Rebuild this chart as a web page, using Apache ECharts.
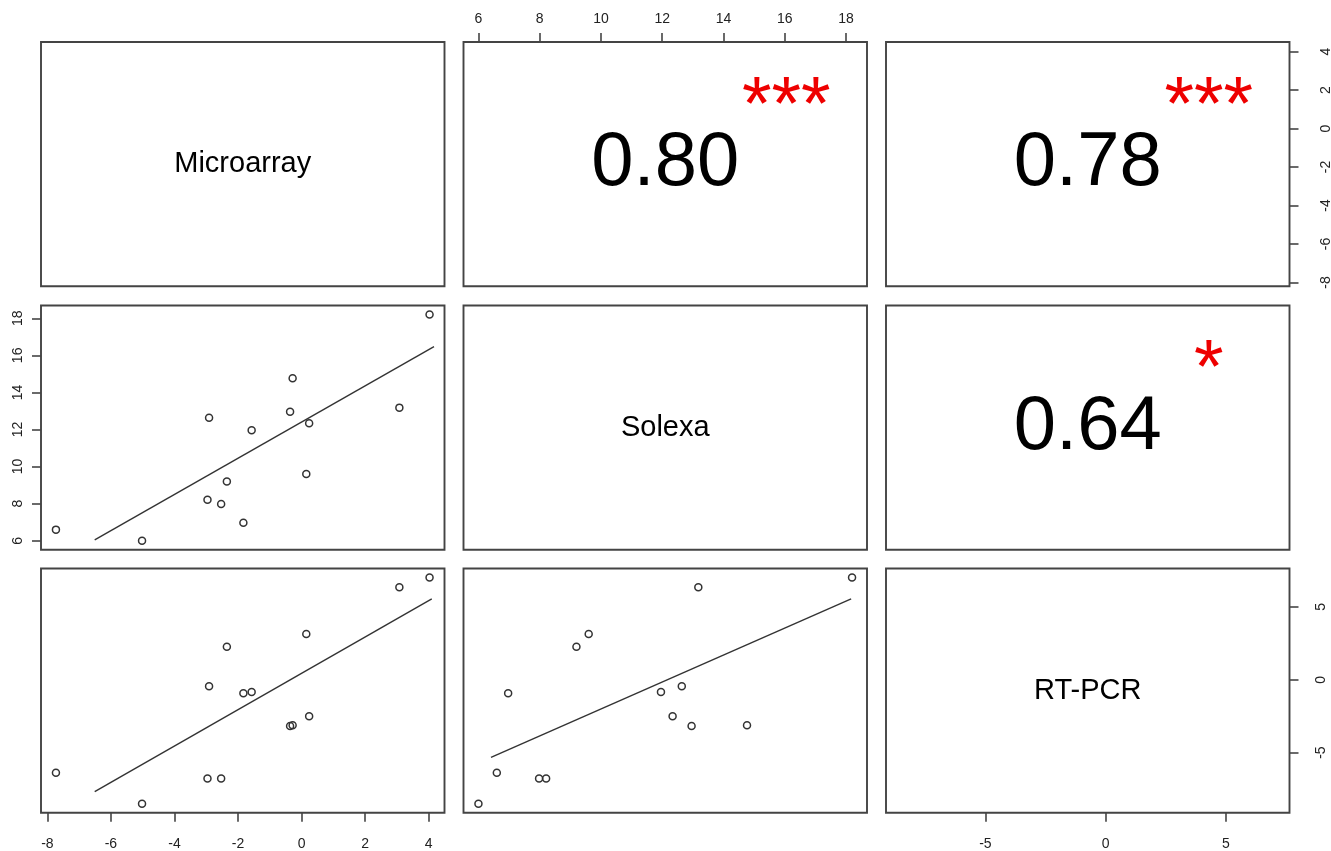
<!DOCTYPE html>
<html>
<head>
<meta charset="utf-8">
<script src="https://cdn.jsdelivr.net/npm/echarts@6/dist/echarts.min.js"></script>
<style>
  html, body { margin: 0; padding: 0; background: #ffffff; }
  #chart { width: 1331px; height: 851px; }
</style>
</head>
<body>
<div id="chart"></div>
<script>
// Variables of the scatterplot matrix
const variables = ['Microarray', 'Solexa', 'RT-PCR'];

// One value per gene for each platform
const microarray = [-7.73, -5.02, -2.91, -2.96, -2.53, -2.35, -1.83, -1.57, -0.36, -0.28, 0.15, 0.24, 3.08, 4.03];
const solexa     = [6.6, 6.0, 12.64, 8.21, 7.98, 9.2, 6.97, 11.96, 12.96, 14.77, 9.6, 12.34, 13.18, 18.2];
const rtpcr      = [-6.38, -8.51, -0.45, -6.77, -6.77, 2.27, -0.92, -0.83, -3.18, -3.12, 3.14, -2.5, 6.36, 7.02];

// Correlation coefficients and significance stars for the upper panels
// order: (Microarray, Solexa), (Microarray, RT-PCR), (Solexa, RT-PCR)
const corrText  = ['0.80', '0.78', '0.64'];
const corrStars = ['***', '***', '*'];

// End points of the fitted lines in the lower panels
const fitMicroSolexa = [[-6.51, 6.05], [4.17, 16.47]];
const fitMicroRt     = [[-6.51, -7.68], [4.10, 5.56]];
const fitSolexaRt    = [[6.41, -5.33], [18.17, 5.56]];

// Tick values of each variable's axis
const microTicks  = [-8, -6, -4, -2, 0, 2, 4];
const solexaTicks = [6, 8, 10, 12, 14, 16, 18];
const rtpcrTicks  = [-5, 0, 5];

// ---------------------------------------------------------------------------
const values = [microarray, solexa, rtpcr];
const ticks = [microTicks, solexaTicks, rtpcrTicks];

// axis range: data range widened by 4% on both sides
function paddedRange(arr) {
  const lo = Math.min(...arr), hi = Math.max(...arr);
  const pad = (hi - lo) * 0.04;
  return [lo - pad, hi + pad];
}
const ranges = values.map(paddedRange);
const at = (v, f) => ranges[v][0] + f * (ranges[v][1] - ranges[v][0]);

// panel layout
const colLeft = [41, 463.5, 886];
const colWidth = 403.5;
const rowTop = [42, 305.5, 568.5];
const rowHeight = 244.3;

const FONT = '"Liberation Sans", Arial, Helvetica, sans-serif';
const boxColor = '#444444';
const inkColor = '#333333';

// which side of which panel carries the tick marks
const xAxisSide = { '0,1': 'top', '2,0': 'bottom', '2,2': 'bottom' };
const yAxisSide = { '1,0': 'left', '0,2': 'right', '2,2': 'right' };
const yLabelMargin = { '1,0': 16, '0,2': 30, '2,2': 25 };

const grids = [], xAxes = [], yAxes = [], series = [];

for (let r = 0; r < 3; r++) {
  for (let c = 0; c < 3; c++) {
    const key = r + ',' + c;
    const gi = r * 3 + c;
    grids.push({
      left: colLeft[c], top: rowTop[r], width: colWidth, height: rowHeight,
      outerBoundsMode: 'none', containLabel: false,
      show: true, borderColor: boxColor, borderWidth: 1.9, backgroundColor: 'transparent'
    });
    const xs = xAxisSide[key];
    xAxes.push({
      gridIndex: gi, type: 'value', min: ranges[c][0], max: ranges[c][1],
      position: xs || 'bottom',
      axisLine: { show: false, onZero: false },
      splitLine: { show: false },
      axisTick: { show: !!xs, customValues: ticks[c], length: 9, inside: false,
                  lineStyle: { color: boxColor, width: 1.6 } },
      axisLabel: { show: !!xs, customValues: ticks[c], margin: xs === 'top' ? 16 : 24,
                   fontFamily: FONT, fontSize: 14, color: '#222' }
    });
    const ys = yAxisSide[key];
    yAxes.push({
      gridIndex: gi, type: 'value', min: ranges[r][0], max: ranges[r][1],
      position: ys || 'left',
      axisLine: { show: false, onZero: false },
      splitLine: { show: false },
      axisTick: { show: !!ys, customValues: ticks[r], length: 9, inside: false,
                  lineStyle: { color: boxColor, width: 1.6 } },
      axisLabel: { show: !!ys, customValues: ticks[r], rotate: 90, margin: yLabelMargin[key] || 18,
                   fontFamily: FONT, fontSize: 14, color: '#222' }
    });
  }
}

// a text-only marker (no symbol) placed in data coordinates of a panel
function textMark(gi, point, text, size, color, offset) {
  return {
    type: 'scatter', xAxisIndex: gi, yAxisIndex: gi, silent: true,
    symbolSize: 0,
    itemStyle: { opacity: 1 },
    data: [point],
    label: { show: true, position: 'inside', formatter: text, offset: offset || [0, 0],
             fontFamily: FONT, fontSize: size, color: color, opacity: 1 }
  };
}

// diagonal: variable names
variables.forEach((name, i) => {
  series.push(textMark(i * 3 + i, [at(i, 0.5), at(i, 0.5)], name, 29, '#000'));
});

// upper panels: correlation and stars
const upper = [[0, 1], [0, 2], [1, 2]];
upper.forEach(([r, c], k) => {
  const gi = r * 3 + c;
  series.push(textMark(gi, [at(c, 0.5), at(r, 0.5)], corrText[k], 76, '#000'));
  series.push(textMark(gi, [at(c, 0.8), at(r, 0.8)], corrStars[k], 76, '#ee0000', [0, 17]));
});

// lower panels: points and fitted lines
const lower = [
  { r: 1, c: 0, fit: fitMicroSolexa },
  { r: 2, c: 0, fit: fitMicroRt },
  { r: 2, c: 1, fit: fitSolexaRt }
];
lower.forEach(({ r, c, fit }) => {
  const gi = r * 3 + c;
  series.push({
    type: 'line', xAxisIndex: gi, yAxisIndex: gi, silent: true,
    data: fit, showSymbol: false, symbol: 'none',
    lineStyle: { color: inkColor, width: 1.4 }
  });
  series.push({
    type: 'scatter', xAxisIndex: gi, yAxisIndex: gi, silent: true,
    data: values[c].map((v, i) => [v, values[r][i]]),
    symbol: 'circle', symbolSize: 7,
    itemStyle: { color: 'rgba(0,0,0,0)', borderColor: inkColor, borderWidth: 1.5, opacity: 1 }
  });
});

const chart = echarts.init(document.getElementById('chart'), null, { renderer: 'canvas' });
chart.setOption({
  animation: false,
  backgroundColor: '#ffffff',
  grid: grids,
  xAxis: xAxes,
  yAxis: yAxes,
  series: series
});
</script>
</body>
</html>
